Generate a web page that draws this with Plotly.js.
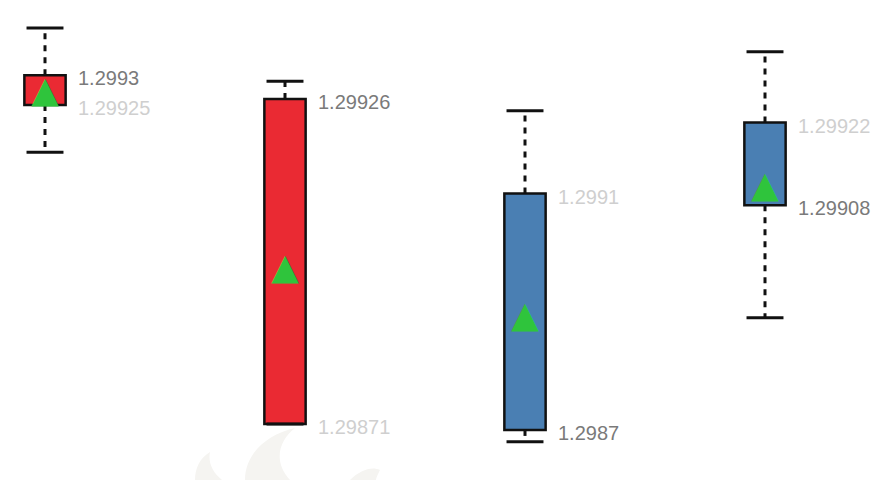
<!DOCTYPE html>
<html>
<head>
<meta charset="utf-8">
<script src="https://cdn.plot.ly/plotly-3.0.1.min.js"></script>
<style>html,body{margin:0;padding:0;background:#fff;}#chart{width:888px;height:480px;}</style>
</head>
<body>
<div id="chart"></div>
<script>
// Data
const idx   = [0, 1, 2, 3];
const open  = [1.29930, 1.29926, 1.29870, 1.29908];
const close = [1.29925, 1.29871, 1.29910, 1.29922];
const high  = [1.29938, 1.29929, 1.29924, 1.29934];
const low   = [1.29917, 1.29871, 1.29868, 1.29889];
const mid   = [1.29927, 1.29897, 1.29889, 1.29911];

const RED = '#ea2a33', BLUE = '#4a7fb3', GREEN = '#2fc43c';
const capHalf = 0.077;

const bodyLow = idx.map(i => Math.min(open[i], close[i]));
const bodyHigh = idx.map(i => Math.max(open[i], close[i]));
const bodyLen = idx.map(i => Math.abs(close[i] - open[i]));
const colors = idx.map(i => close[i] < open[i] ? RED : BLUE);

const wx = [], wy = [], cx = [], cy = [];
idx.forEach(i => {
  wx.push(i, i, null, i, i, null);
  wy.push(bodyHigh[i], high[i], null, bodyLow[i], low[i], null);
  cx.push(i - capHalf, i + capHalf, null, i - capHalf, i + capHalf, null);
  cy.push(high[i], high[i], null, low[i], low[i], null);
});

const traces = [
  {type: 'bar', x: idx, y: bodyLen, base: bodyLow, width: 0.172,
   marker: {color: colors, line: {color: '#111', width: 2.5}}, hoverinfo: 'skip'},
  {type: 'scatter', mode: 'lines', x: wx, y: wy,
   line: {color: '#111', width: 3, dash: '6px,6px'}, hoverinfo: 'skip'},
  {type: 'scatter', mode: 'lines', x: cx, y: cy,
   line: {color: '#111', width: 3}, hoverinfo: 'skip'},
  {type: 'scatter', mode: 'text', x: idx, y: mid, text: idx.map(() => '▲'),
   textposition: 'middle center',
   textfont: {family: 'DejaVu Sans', size: 36, color: GREEN},
   hoverinfo: 'skip'}
];

const annotations = [];
idx.forEach(i => {
  annotations.push({x: i, y: open[i], xref: 'x', yref: 'y', text: String(open[i]),
    showarrow: false, xanchor: 'left', yanchor: 'middle', xshift: 31, yshift: -3,
    font: {family: 'Liberation Sans, Arial, sans-serif', size: 20, color: '#7a7a7a'}});
  annotations.push({x: i, y: close[i], xref: 'x', yref: 'y', text: String(close[i]),
    showarrow: false, xanchor: 'left', yanchor: 'middle', xshift: 31, yshift: -3,
    font: {family: 'Liberation Sans, Arial, sans-serif', size: 20, color: '#cfcfcf'}});
});

const px = (x) => (x / 888).toFixed(4), py = (y) => (1 - y / 480).toFixed(4);
const flame = `M ${px(195)},${py(480)} C ${px(195)},${py(468)} ${px(200)},${py(458)} ${px(210)},${py(452)} ` +
  `C ${px(208)},${py(462)} ${px(212)},${py(472)} ${px(222)},${py(480)} Z ` +
  `M ${px(245)},${py(480)} C ${px(245)},${py(455)} ${px(265)},${py(435)} ${px(295)},${py(428)} ` +
  `C ${px(280)},${py(440)} ${px(272)},${py(460)} ${px(290)},${py(480)} Z ` +
  `M ${px(350)},${py(480)} C ${px(360)},${py(470)} ${px(372)},${py(466)} ${px(380)},${py(470)} ` +
  `C ${px(378)},${py(474)} ${px(376)},${py(478)} ${px(376)},${py(480)} Z`;

const layout = {
  width: 888, height: 480,
  margin: {l: 0, r: 0, t: 0, b: 0},
  paper_bgcolor: '#ffffff', plot_bgcolor: '#ffffff',
  showlegend: false,
  xaxis: {range: [-0.1875, 3.5125], visible: false, fixedrange: true},
  yaxis: {range: [1.29861523, 1.2994275], visible: false, fixedrange: true},
  annotations: annotations,
  shapes: [{type: 'path', xref: 'paper', yref: 'paper', path: flame,
    fillcolor: '#f5f4f1', line: {width: 0}, layer: 'below'}]
};

Plotly.newPlot('chart', traces, layout, {displayModeBar: false, staticPlot: true});
</script>
</body>
</html>
